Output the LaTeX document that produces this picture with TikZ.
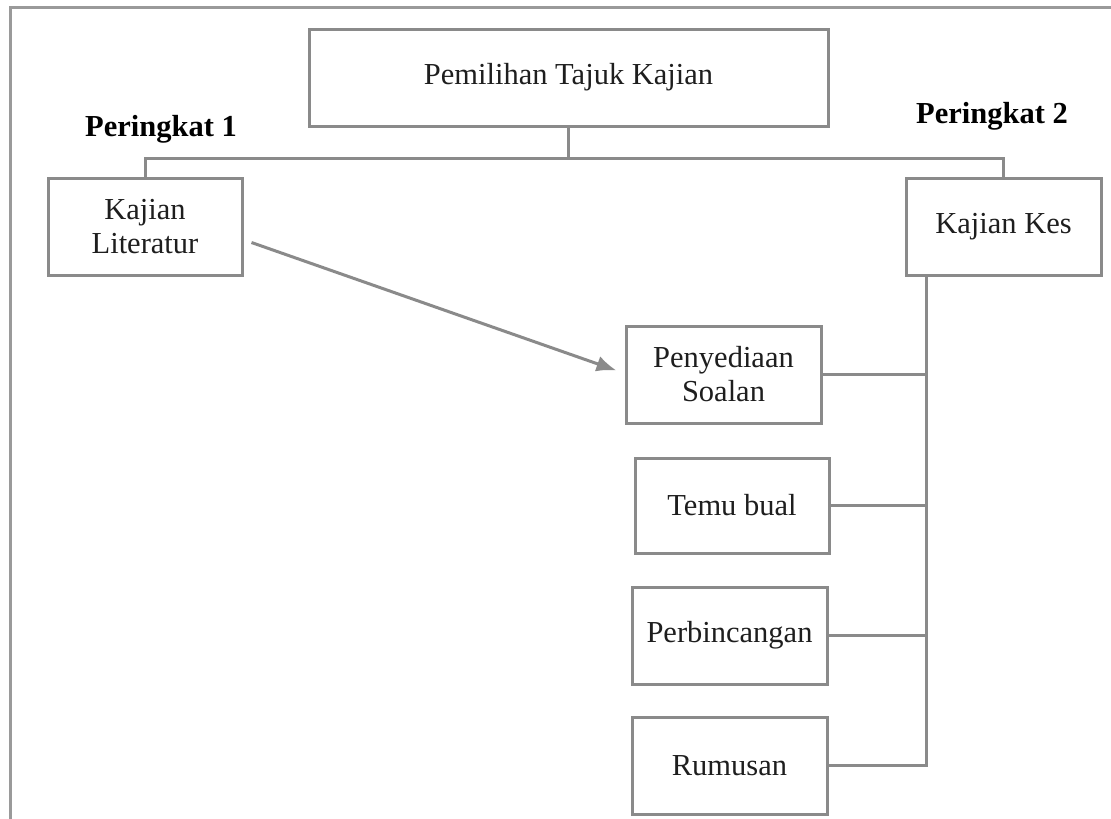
\documentclass[tikz,border=0pt]{standalone}
\usepackage{fontspec}
\setmainfont{Liberation Serif}
\usetikzlibrary{arrows.meta,calc}
\definecolor{linegray}{HTML}{8A8A8A}
\definecolor{framegray}{HTML}{9A9A9A}
\definecolor{txt}{HTML}{1E1E1E}
\tikzset{
  boxnode/.style={draw=linegray, line width=3pt, fill=white, inner sep=0pt, align=center,
    text=txt, font=\fontsize{30.5}{34}\selectfont},
  level/.style={inner sep=0pt, font=\bfseries\fontsize{30.5}{34}\selectfont, text=black},
  conn/.style={draw=linegray, line width=3pt},
  arrowline/.style={draw=linegray, line width=3pt, -{Latex[length=20pt,width=16pt]}}
}
\begin{document}
\begin{tikzpicture}[x=1pt,y=-1pt]
\useasboundingbox (0,0) rectangle (1111,819);
\fill[white] (0,0) rectangle (1111,819);
% outer frame (top and left only)
\draw[framegray, line width=3pt] (10,822) -- (10,7) -- (1114,7);

\node[boxnode, minimum width=519pt, minimum height=97pt] (top) at (568.5,77.5) {Pemilihan Tajuk Kajian};
\node[level] (p1) at (161,129) {Peringkat 1};
\node[level] (p2) at (992,116) {Peringkat 2};

\node[boxnode, minimum width=194pt, minimum height=97pt] (lit) at (145,226.5) {Kajian\\Literatur};
\node[boxnode, minimum width=195pt, minimum height=97pt] (kes) at (1003.5,226.5) {Kajian Kes};

\node[boxnode, minimum width=195pt, minimum height=97pt] (soal) at (723.5,374.5) {Penyediaan\\Soalan};
\node[boxnode, minimum width=194pt, minimum height=95pt] (temu) at (732,505.5) {Temu bual};
\node[boxnode, minimum width=195pt, minimum height=97pt] (bincang) at (729.5,635.5) {Perbincangan};
\node[boxnode, minimum width=195pt, minimum height=97pt] (rumus) at (729.5,765.5) {Rumusan};

\coordinate (bar) at (0,158);
\coordinate (bus) at (926,0);

% tree connectors
\draw[conn] (top.south) -- (top.south |- bar);
\draw[conn] (lit.north) -- (lit.north |- bar) -- (kes.north |- bar) -- (kes.north);

% right bus
\draw[conn] (kes.south -| bus) -- (rumus.east -| bus) -- (rumus.east);
\draw[conn] (soal.east) -- (soal.east -| bus);
\draw[conn] (temu.east) -- (temu.east -| bus);
\draw[conn] (bincang.east) -- (bincang.east -| bus);

% arrow
\draw[arrowline] ([shift={(8,16)}]lit.east) -- ([shift={(-8,-4)}]soal.west);
\end{tikzpicture}
\end{document}
